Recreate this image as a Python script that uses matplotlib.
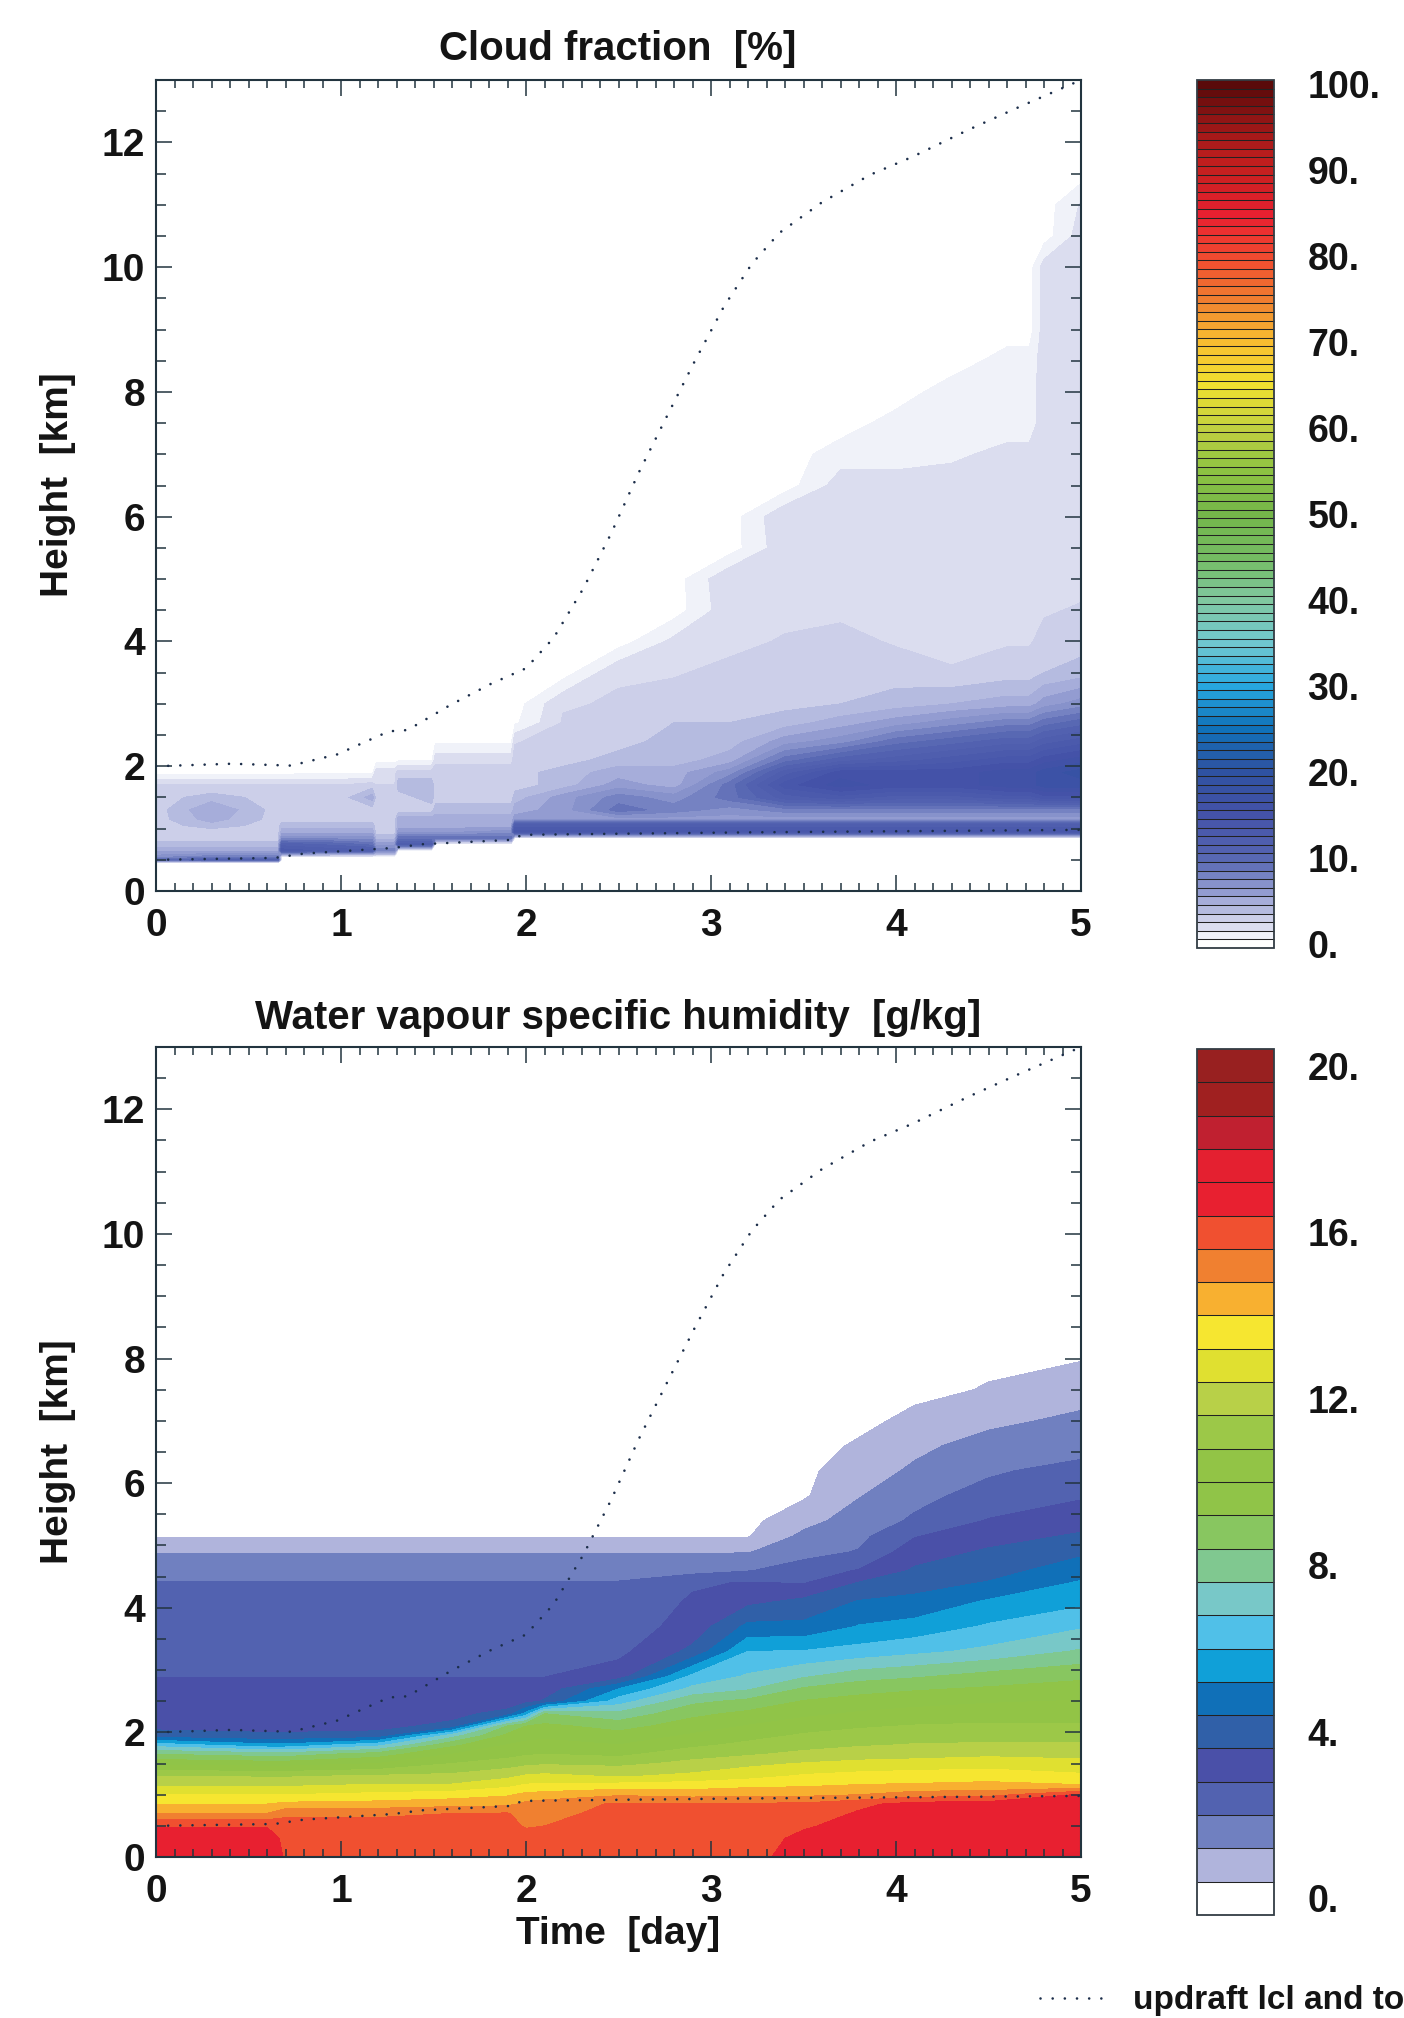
import numpy as np
import matplotlib
matplotlib.use('Agg')
import matplotlib.pyplot as plt
from matplotlib.colors import LinearSegmentedColormap
from matplotlib.ticker import MultipleLocator

plt.rcParams['font.family'] = ['Liberation Sans', 'DejaVu Sans']
plt.rcParams['font.weight'] = 'bold'
plt.rcParams['text.color'] = '#141414'

# ---- cloud fraction [%]: one row per time column, one value per height ----
cf_time = [0.0, 0.30, 0.66, 0.68, 1.00, 1.17, 1.19, 1.29, 1.31, 1.49, 1.51,
           1.92, 1.94, 2.20, 2.50, 2.80, 3.10, 3.40, 3.70, 4.00, 4.30, 4.60,
           4.72, 4.80, 5.00]
cf_height = [0, 0.45, 0.5, 0.55, 0.65, 0.75, 0.85, 0.95, 1.05, 1.15, 1.3,
             1.5, 1.7, 1.9, 2.1, 2.4, 2.7, 3.0, 3.5, 4.0, 4.5, 5.0, 5.5, 6.0,
             6.5, 7.0, 7.5, 8.0, 8.5, 9.0, 9.5, 10.0, 10.5, 11.0, 11.5, 12.0,
             13.0]
cf_pct = [
    [0, 0, 9, 7, 5, 4, 3, 3, 3, 3, 3, 3, 2.5, 0, 0, 0, 0,
     0, 0, 0, 0, 0, 0, 0, 0, 0, 0, 0, 0, 0, 0, 0, 0, 0, 0, 0, 0],
    [0, 0, 11, 8, 5, 4, 3, 3, 4, 5, 5.5, 4, 2.5, 0, 0, 0, 0,
     0, 0, 0, 0, 0, 0, 0, 0, 0, 0, 0, 0, 0, 0, 0, 0, 0, 0, 0, 0],
    [0, 0, 11, 8, 5, 4, 3, 3, 3, 3, 3, 3, 2.5, 0, 0, 0, 0,
     0, 0, 0, 0, 0, 0, 0, 0, 0, 0, 0, 0, 0, 0, 0, 0, 0, 0, 0, 0],
    [0, 0, 0, 0.3, 13, 11, 7, 5, 4, 3, 3, 3, 2.5, 0.2, 0, 0, 0,
     0, 0, 0, 0, 0, 0, 0, 0, 0, 0, 0, 0, 0, 0, 0, 0, 0, 0, 0, 0],
    [0, 0, 0, 0.3, 12, 10, 7, 5, 4, 3, 3, 3, 2.5, 0.3, 0, 0, 0,
     0, 0, 0, 0, 0, 0, 0, 0, 0, 0, 0, 0, 0, 0, 0, 0, 0, 0, 0, 0],
    [0, 0, 0, 0.3, 12, 9, 7, 5, 4, 3, 3, 5, 3, 0.3, 0, 0, 0,
     0, 0, 0, 0, 0, 0, 0, 0, 0, 0, 0, 0, 0, 0, 0, 0, 0, 0, 0, 0],
    [0, 0, 0, 0.3, 8, 6, 4, 3, 3, 3, 3, 3, 2.5, 2.2, 0, 0, 0,
     0, 0, 0, 0, 0, 0, 0, 0, 0, 0, 0, 0, 0, 0, 0, 0, 0, 0, 0, 0],
    [0, 0, 0, 0.3, 8, 6, 4, 3, 3, 3, 3, 3, 2.5, 2.2, 0, 0, 0,
     0, 0, 0, 0, 0, 0, 0, 0, 0, 0, 0, 0, 0, 0, 0, 0, 0, 0, 0, 0],
    [0, 0, 0, 0, 0, 12, 9, 6, 5, 5, 3, 3, 4, 3, 0.3, 0, 0,
     0, 0, 0, 0, 0, 0, 0, 0, 0, 0, 0, 0, 0, 0, 0, 0, 0, 0, 0, 0],
    [0, 0, 0, 0, 0, 12, 9, 6, 5, 5, 3, 4, 4, 3, 0.3, 0, 0,
     0, 0, 0, 0, 0, 0, 0, 0, 0, 0, 0, 0, 0, 0, 0, 0, 0, 0, 0, 0],
    [0, 0, 0, 0, 0, 0, 9, 6, 5, 5, 4, 3, 3, 3, 2.2, 0.3, 0,
     0, 0, 0, 0, 0, 0, 0, 0, 0, 0, 0, 0, 0, 0, 0, 0, 0, 0, 0, 0],
    [0, 0, 0, 0, 0, 0, 9, 7, 5, 5, 4, 3, 3, 3, 2.2, 0.3, 0,
     0, 0, 0, 0, 0, 0, 0, 0, 0, 0, 0, 0, 0, 0, 0, 0, 0, 0, 0, 0],
    [0, 0, 0, 0, 0, 0, 0.4, 14, 12, 6, 5, 4, 3, 3, 3, 2.4, 0.3,
     0, 0, 0, 0, 0, 0, 0, 0, 0, 0, 0, 0, 0, 0, 0, 0, 0, 0, 0, 0],
    [0, 0, 0, 0, 0, 0, 0.4, 14, 12, 6, 6, 6, 4, 4, 3, 3, 2.6,
     2.4, 0, 0, 0, 0, 0, 0, 0, 0, 0, 0, 0, 0, 0, 0, 0, 0, 0, 0, 0],
    [0, 0, 0, 0, 0, 0, 0.4, 14, 12, 6, 9, 8, 6, 5, 4, 3, 3,
     2.6, 2.4, 0, 0, 0, 0, 0, 0, 0, 0, 0, 0, 0, 0, 0, 0, 0, 0, 0, 0],
    [0, 0, 0, 0, 0, 0, 0.4, 14, 12, 6, 8, 7, 5, 5, 4, 4, 3.5,
     3, 2.4, 1.8, 0, 0, 0, 0, 0, 0, 0, 0, 0, 0, 0, 0, 0, 0, 0, 0, 0],
    [0, 0, 0, 0, 0, 0, 0.4, 14, 12, 6, 7, 9, 9, 7, 5, 4, 3.5,
     3, 2.8, 2.2, 2.2, 2.4, 0, 0, 0, 0, 0, 0, 0, 0, 0, 0, 0, 0, 0, 0, 0],
    [0, 0, 0, 0, 0, 0, 0.4, 14, 12, 6, 8, 12, 14, 12, 9, 6, 4,
     3.2, 3, 2.6, 2.2, 2.2, 2.2, 2.4, 0, 0, 0, 0, 0, 0, 0, 0, 0, 0, 0, 0, 0],
    [0, 0, 0, 0, 0, 0, 0.4, 14, 12, 6, 8, 13, 16, 15, 11, 7, 5,
     3.5, 3.2, 2.8, 2.3, 2.1, 2.1, 2, 2, 1, 0, 0, 0, 0, 0, 0, 0, 0, 0, 0, 0],
    [0, 0, 0, 0, 0, 0, 0.4, 14, 12, 6, 8, 12, 15, 15, 12, 9, 6,
     4, 3, 2.4, 2.2, 2.1, 2.1, 2, 2, 1, 0.9, 0, 0, 0, 0, 0, 0, 0, 0, 0, 0],
    [0, 0, 0, 0, 0, 0, 0.4, 14, 12, 6, 8, 12, 15, 15, 13, 10, 7,
     4.5, 2.6, 2.2, 2, 2, 2, 2, 2, 1.3, 1, 1, 0, 0, 0, 0, 0, 0, 0, 0, 0],
    [0, 0, 0, 0, 0, 0, 0.4, 14, 12, 6, 8, 13, 16, 16, 14, 11, 8,
     5, 3, 2.4, 2.2, 2, 2, 2, 2, 1.8, 1, 1, 0.9, 0, 0, 0, 0, 0, 0, 0, 0],
    [0, 0, 0, 0, 0, 0, 0.4, 14, 12, 6, 8, 13, 16, 16, 14, 11, 8,
     5, 3, 2.4, 2.2, 2, 2, 2, 2, 1.8, 1, 1, 0.9, 0, 0, 0, 0, 0, 0, 0, 0],
    [0, 0, 0, 0, 0, 0, 0.4, 14, 12, 6, 8, 14, 17, 17, 15, 12, 9,
     6, 3.5, 2.8, 2.4, 2.2, 2, 2, 2, 2, 2, 2, 2, 2, 2, 2, 0, 0, 0, 0, 0],
    [0, 0, 0, 0, 0, 0, 0.4, 14, 12, 6, 8, 14, 17, 18, 16, 13, 10,
     7, 4, 3, 2.6, 2.2, 2, 2, 2, 2, 2, 2, 2, 2, 2, 2, 2, 1.6, 0, 0, 0],
]

# ---- water vapour specific humidity [g/kg] ----
q_time = [0.0, 0.6, 0.7, 1.2, 1.6, 1.9, 2.0, 2.1, 2.5, 2.9, 3.2, 3.5, 3.8,
          4.1, 4.5, 5.0]
q_height = [0, 0.3, 0.5, 0.7, 0.85, 1.0, 1.15, 1.3, 1.5, 1.65, 1.8, 1.95,
            2.1, 2.3, 2.5, 2.7, 2.9, 3.3, 3.7, 4.1, 4.4, 4.6, 4.9, 5.15, 5.4,
            5.8, 6.2, 6.6, 7.0, 7.5, 8.0, 8.5, 13.0]
q_gkg = [
    [17.0, 16.8, 16.35, 14.8, 14.0, 13.2, 12.3, 11.6, 9.8, 8.4, 6.4, 3.9, 3.4, 3.3, 3.2, 3.0, 2.78,
     2.6, 2.4, 2.2, 2.05, 1.7, 1.15, 0.35, 0.2, 0.15, 0.1, 0.1, 0.1, 0.1, 0.1, 0.1, 0.05],
    [17.0, 16.8, 16.35, 14.8, 14.0, 13.2, 12.3, 11.5, 9.6, 8.0, 5.4, 3.7, 3.4, 3.3, 3.2, 3.0, 2.78,
     2.6, 2.4, 2.2, 2.05, 1.7, 1.15, 0.35, 0.2, 0.15, 0.1, 0.1, 0.1, 0.1, 0.1, 0.1, 0.05],
    [16.3, 16.2, 16.0, 15.4, 14.2, 13.2, 12.3, 11.5, 9.6, 8.0, 5.4, 3.7, 3.4, 3.3, 3.2, 3.0, 2.78,
     2.6, 2.4, 2.2, 2.05, 1.7, 1.15, 0.35, 0.2, 0.15, 0.1, 0.1, 0.1, 0.1, 0.1, 0.1, 0.05],
    [16.3, 16.2, 16.0, 15.4, 14.3, 13.4, 12.5, 11.7, 10.0, 8.8, 6.5, 3.8, 3.4, 3.3, 3.2, 3.0, 2.78,
     2.6, 2.4, 2.2, 2.05, 1.7, 1.15, 0.35, 0.2, 0.15, 0.1, 0.1, 0.1, 0.1, 0.1, 0.1, 0.05],
    [16.2, 16.1, 15.9, 15.6, 14.5, 13.6, 12.5, 11.8, 10.8, 10.0, 9.0, 7.2, 3.8, 3.35, 3.2, 3.0, 2.78,
     2.6, 2.4, 2.2, 2.05, 1.7, 1.15, 0.35, 0.2, 0.15, 0.1, 0.1, 0.1, 0.1, 0.1, 0.1, 0.05],
    [16.2, 16.1, 15.9, 15.65, 14.6, 13.9, 13.0, 12.2, 11.2, 10.5, 10.0, 9.4, 8.5, 3.9, 3.1, 3.0, 2.78,
     2.6, 2.4, 2.2, 2.05, 1.7, 1.15, 0.35, 0.2, 0.15, 0.1, 0.1, 0.1, 0.1, 0.1, 0.1, 0.05],
    [16.1, 16.0, 15.5, 15.3, 15.0, 14.2, 13.3, 12.5, 11.4, 10.7, 10.2, 9.7, 9.2, 5.5, 3.3, 3.1, 2.78,
     2.6, 2.4, 2.2, 2.05, 1.7, 1.15, 0.35, 0.2, 0.15, 0.1, 0.1, 0.1, 0.1, 0.1, 0.1, 0.05],
    [16.2, 16.0, 15.6, 15.4, 15.2, 14.3, 13.4, 12.6, 11.5, 10.8, 10.3, 9.8, 9.4, 8.4, 3.7, 3.1, 2.78,
     2.6, 2.4, 2.2, 2.05, 1.7, 1.15, 0.35, 0.2, 0.15, 0.1, 0.1, 0.1, 0.1, 0.1, 0.1, 0.05],
    [16.1, 16.0, 15.9, 15.8, 15.7, 14.7, 13.5, 12.3, 11.4, 10.6, 10.0, 9.5, 8.9, 7.8, 6.4, 5.2, 3.2,
     2.6, 2.4, 2.2, 2.05, 1.7, 1.15, 0.35, 0.2, 0.15, 0.1, 0.1, 0.1, 0.1, 0.1, 0.1, 0.05],
    [16.1, 16.0, 15.9, 15.8, 15.7, 14.5, 13.6, 12.6, 11.8, 11.3, 10.6, 10.1, 9.6, 9.0, 8.2, 7.0, 6.2,
     3.8, 3.1, 2.9, 2.7, 1.7, 1.15, 0.35, 0.2, 0.15, 0.1, 0.1, 0.1, 0.1, 0.1, 0.1, 0.05],
    [16.1, 16.0, 15.9, 15.8, 15.7, 14.6, 13.8, 12.9, 12.2, 11.5, 11.0, 10.5, 10.05, 9.4, 8.6, 7.5, 6.9,
     6.0, 4.6, 3.4, 2.85, 1.95, 1.15, 0.35, 0.2, 0.15, 0.1, 0.1, 0.1, 0.1, 0.1, 0.1, 0.05],
    [16.8, 16.6, 16.3, 15.9, 15.75, 14.6, 13.9, 13.3, 12.45, 11.8, 11.3, 10.9, 10.45, 9.8, 9.25, 8.5, 7.5,
     6.05, 4.6, 3.8, 2.75, 2.4, 1.7, 1.4, 0.9, 0.3, 0.2, 0.1, 0.1, 0.1, 0.1, 0.1, 0.05],
    [17.0, 16.9, 16.7, 16.5, 16.2, 14.8, 14.05, 13.5, 12.6, 12.05, 11.5, 11.1, 10.7, 10.1, 9.5, 8.9, 8.05,
     6.3, 5.25, 4.45, 3.65, 2.85, 2.05, 1.8, 1.6, 1.15, 0.9, 0.5, 0.2, 0.1, 0.1, 0.1, 0.05],
    [17.0, 16.95, 16.9, 16.8, 16.7, 15.2, 14.1, 13.6, 12.7, 12.1, 11.65, 11.25, 10.85, 10.3, 9.7, 9.1, 8.3,
     6.6, 5.5, 4.6, 4.1, 3.7, 3.25, 2.75, 2.1, 1.8, 1.3, 1.05, 0.6, 0.2, 0.1, 0.1, 0.05],
    [17.1, 17.0, 17.0, 16.9, 16.8, 15.3, 14.2, 13.7, 12.8, 12.25, 11.7, 11.3, 10.9, 10.5, 9.9, 9.3, 8.7,
     7.0, 6.1, 5.3, 4.45, 4.1, 3.7, 3.3, 2.85, 2.25, 1.9, 1.45, 1.05, 0.45, 0.25, 0.1, 0.05],
    [17.25, 17.1, 17.05, 17.0, 16.9, 16.5, 14.05, 13.4, 12.5, 12.3, 11.7, 11.25, 10.9, 10.5, 10.05, 9.5, 9.05,
     7.7, 6.7, 5.8, 5.3, 4.8, 4.25, 3.7, 3.3, 2.7, 2.25, 1.7, 1.35, 0.9, 0.35, 0.2, 0.05],
]

# updraft top and lifting condensation level [km]
upd_time = [0, 0.41, 0.73, 0.98, 1.13, 1.26, 1.36, 1.59, 1.81, 2.0, 2.15,
            2.31, 2.46, 2.61, 2.76, 2.91, 3.07, 3.22, 3.37, 3.6, 3.86, 4.09,
            4.39, 4.66, 5.0]
upd_top = [2.0, 2.04, 2.01, 2.19, 2.39, 2.56, 2.58, 2.98, 3.32, 3.57, 4.06,
           4.85, 5.73, 6.71, 7.6, 8.48, 9.37, 10.05, 10.55, 11.04, 11.48,
           11.77, 12.2, 12.56, 13.0]
lcl_time = [0, 0.64, 0.8, 1.28, 1.44, 1.92, 1.98, 2.24, 3.2, 5.0]
lcl_height = [0.5, 0.53, 0.6, 0.69, 0.75, 0.82, 0.9, 0.91, 0.94, 0.98]

# colour-table anchors shared by both panels (fraction of the scale)
table_pos = [0.0, 0.01, 0.02, 0.05, 0.10, 0.15, 0.20, 0.25, 0.30, 0.35,
             0.40, 0.45, 0.50, 0.55, 0.60, 0.65, 0.70, 0.75, 0.80, 0.85,
             0.90, 0.95, 1.0]
table_col = ['#ffffff', '#eceef7', '#dadcef', '#a0a8d8', '#5565b2', '#4452a8',
             '#2f52a2', '#1070b8', '#28a8e0', '#70c8d0', '#80c8a0', '#74bb62',
             '#74b64a', '#8cc242', '#c0d040', '#f0e030', '#f8c030', '#f08030',
             '#f04a30', '#e82030', '#c82020', '#a01818', '#5a0a0a']
table = LinearSegmentedColormap.from_list('idl_table', list(zip(table_pos, table_col)))

cf_levels = np.arange(-0.5, 101.0, 1.0)
cf_colors = [table(v / 100.0) for v in range(101)]

q_levels = np.arange(-0.4, 20.5, 0.8)
q_colors = ['#ffffff', '#b0b4dc', '#7080c0', '#5262b0', '#4a50a8', '#3060a8',
            '#1070b8', '#10a0d8', '#50c0e8', '#78c8c8', '#80c890', '#88c660',
            '#90c448', '#92c446', '#9cc848', '#b8d048', '#e0e030', '#f6e630',
            '#f8b030', '#f08030', '#f05030', '#e82030', '#e42030', '#c02030',
            '#a02020', '#982020']

W, H = 1404.0, 2018.0
line_col = '#22343f'
dot_col = '#1c2e4a'


def px_rect(x0, y0, x1, y1):
    return [x0 / W, 1 - y1 / H, (x1 - x0) / W, (y1 - y0) / H]


def style_axes(ax):
    ax.set_xlim(0, 5)
    ax.set_ylim(0, 13)
    ax.xaxis.set_major_locator(MultipleLocator(1))
    ax.xaxis.set_minor_locator(MultipleLocator(0.1))
    ax.yaxis.set_major_locator(MultipleLocator(2))
    ax.yaxis.set_minor_locator(MultipleLocator(0.5))
    ax.tick_params(which='both', direction='in', top=True, right=True,
                   color=line_col, width=1.1, labelcolor='#141414')
    ax.tick_params(which='major', length=11.5, labelsize=28)
    ax.tick_params(axis='x', which='minor', length=5.5)
    ax.tick_params(axis='y', which='minor', length=7.5)
    ax.tick_params(axis='x', which='major', pad=12)
    ax.tick_params(axis='y', which='major', pad=8)
    for sp in ax.spines.values():
        sp.set_linewidth(1.5)
        sp.set_color(line_col)


def style_cbar(cb, ticks, fmt):
    cb.set_ticks(ticks)
    cb.set_ticklabels([fmt % t for t in ticks])
    cb.ax.tick_params(length=0, pad=24, labelsize=27, labelcolor='#141414')
    cb.outline.set_linewidth(1.3)
    cb.outline.set_edgecolor('#333d44')
    cb.dividers.set_color('#222222')
    cb.dividers.set_linewidth(0.75)


fig = plt.figure(figsize=(14.04, 20.18), dpi=100)

ax_cf = fig.add_axes(px_rect(156, 80, 1081, 891))
ax_q = fig.add_axes(px_rect(156, 1047, 1081, 1857))
cax_cf = fig.add_axes(px_rect(1197, 80, 1274, 948))
cax_q = fig.add_axes(px_rect(1197, 1049, 1274, 1915))

cs_cf = ax_cf.contourf(cf_time, cf_height, np.array(cf_pct).T,
                       levels=cf_levels, colors=cf_colors)
cs_q = ax_q.contourf(q_time, q_height, np.array(q_gkg).T,
                     levels=q_levels, colors=q_colors)

dots = (0, (0.01, 4.6))
for ax in (ax_cf, ax_q):
    h_line, = ax.plot(upd_time, upd_top, color=dot_col, lw=1.9, ls=dots,
                      dash_capstyle='round', zorder=3)
    ax.plot(lcl_time, lcl_height, color=dot_col, lw=1.9, ls=dots,
            dash_capstyle='round', zorder=3)
    style_axes(ax)

cb_cf = fig.colorbar(cs_cf, cax=cax_cf, drawedges=True)
style_cbar(cb_cf, list(range(0, 101, 10)), '%d.')
cb_q = fig.colorbar(cs_q, cax=cax_q, drawedges=True)
style_cbar(cb_q, [0, 4, 8, 12, 16, 20], '%d.')

# titles and axis labels
fig.text(618 / W, 1 - 49 / H, 'Cloud fraction  [%]', ha='center',
         va='center', fontsize=29)
fig.text(618 / W, 1 - 1018 / H, 'Water vapour specific humidity  [g/kg]',
         ha='center', va='center', fontsize=29)
fig.text(58 / W, 1 - 485 / H, 'Height  [km]', rotation=90, ha='center',
         va='center', fontsize=28)
fig.text(58 / W, 1 - 1452 / H, 'Height  [km]', rotation=90, ha='center',
         va='center', fontsize=28)
fig.text(618 / W, 1 - 1934 / H, 'Time  [day]', ha='center', va='center',
         fontsize=28)

# legend runs off the right edge of the page
fig.legend(handles=[h_line], labels=['updraft lcl and top'],
           loc='center left', bbox_to_anchor=(1040 / W, 1 - 2001 / H),
           frameon=False, fontsize=24, handlelength=1.95, handletextpad=0.85,
           borderpad=0, borderaxespad=0)

fig.savefig('out.png', dpi=100)
